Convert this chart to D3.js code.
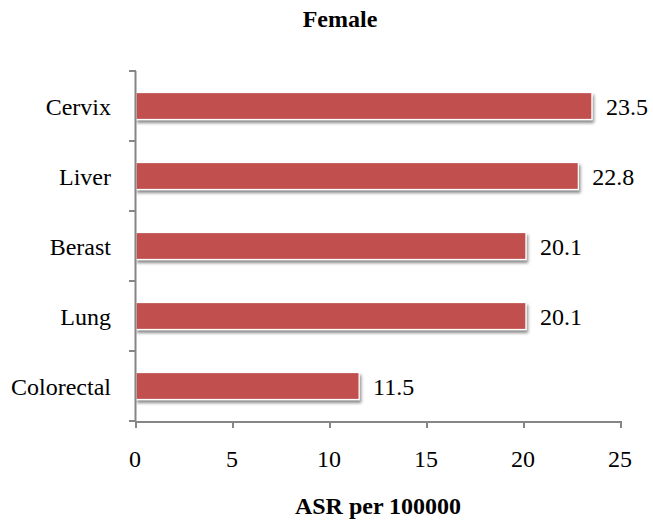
<!DOCTYPE html>
<html><head><meta charset="utf-8">
<script src="https://cdn.jsdelivr.net/npm/d3@7"></script>
<style>body{margin:0;background:#fff}svg{display:block}</style>
</head><body>
<svg id="c" width="653" height="524"></svg>
<script>
const categories = ["Cervix","Liver","Berast","Lung","Colorectal"];
const values = [23.5,22.8,20.1,20.1,11.5];
const xTicks = [0,5,10,15,20,25];
const title = "Female";
const xTitle = "ASR per 100000";

const svg = d3.select("#c");
const font = "'Liberation Serif','Times New Roman',serif";
const defs = svg.append("defs");
const f = defs.append("filter").attr("id","sh").attr("x","-5%").attr("y","-30%").attr("width","115%").attr("height","190%");
f.append("feDropShadow").attr("dx",1.5).attr("dy",3).attr("stdDeviation",1.8).attr("flood-color","#000").attr("flood-opacity",0.45);

const x = d3.scaleLinear().domain([0,25]).range([136,621]);
const y = d3.scaleBand().domain(categories).range([71,421]).paddingInner(0.615).paddingOuter(0.3075);

svg.append("text").attr("x",340).attr("y",27).attr("text-anchor","middle")
  .attr("font-family",font).attr("font-weight","bold").attr("font-size",24).text(title);

svg.append("g").selectAll("rect").data(categories).join("rect")
  .attr("x",x(0)).attr("y",d=>y(d)).attr("width",(d,i)=>x(values[i])-x(0)).attr("height",y.bandwidth())
  .attr("fill","#C0504D").attr("stroke","#fff").attr("stroke-width",1.2).attr("filter","url(#sh)");

// y axis
const ya = svg.append("g");
ya.append("line").attr("x1",135.5).attr("x2",135.5).attr("y1",71).attr("y2",421.5).attr("stroke","#868686").attr("stroke-width",2);
const yt = [71,141,211,281,351,421];
ya.selectAll("line.t").data(yt).join("line").attr("class","t").attr("x1",129).attr("x2",136).attr("y1",d=>d).attr("y2",d=>d).attr("stroke","#868686").attr("stroke-width",2);
ya.selectAll("text").data(categories).join("text").attr("x",111).attr("y",d=>y(d)+y.bandwidth()/2+9)
  .attr("text-anchor","end").attr("font-family",font).attr("font-size",24).attr("fill","#000").text(d=>d);

// x axis
const xa = svg.append("g");
xa.append("line").attr("x1",135).attr("x2",622).attr("y1",422).attr("y2",422).attr("stroke","#868686").attr("stroke-width",2);
xa.selectAll("line.t").data(xTicks).join("line").attr("class","t").attr("x1",d=>x(d)).attr("x2",d=>x(d)).attr("y1",422).attr("y2",428).attr("stroke","#868686").attr("stroke-width",2);
xa.selectAll("text").data(xTicks).join("text").attr("x",d=>x(d)-1).attr("y",467).attr("text-anchor","middle")
  .attr("font-family",font).attr("font-size",24).text(d=>d);

svg.append("g").selectAll("text").data(categories).join("text")
  .attr("x",(d,i)=>x(values[i])+14).attr("y",d=>y(d)+y.bandwidth()/2+9)
  .attr("font-family",font).attr("font-size",24).text((d,i)=>values[i].toFixed(1));

svg.append("text").attr("x",378).attr("y",514).attr("text-anchor","middle")
  .attr("font-family",font).attr("font-weight","bold").attr("font-size",24).text(xTitle);
</script>
</body></html>
